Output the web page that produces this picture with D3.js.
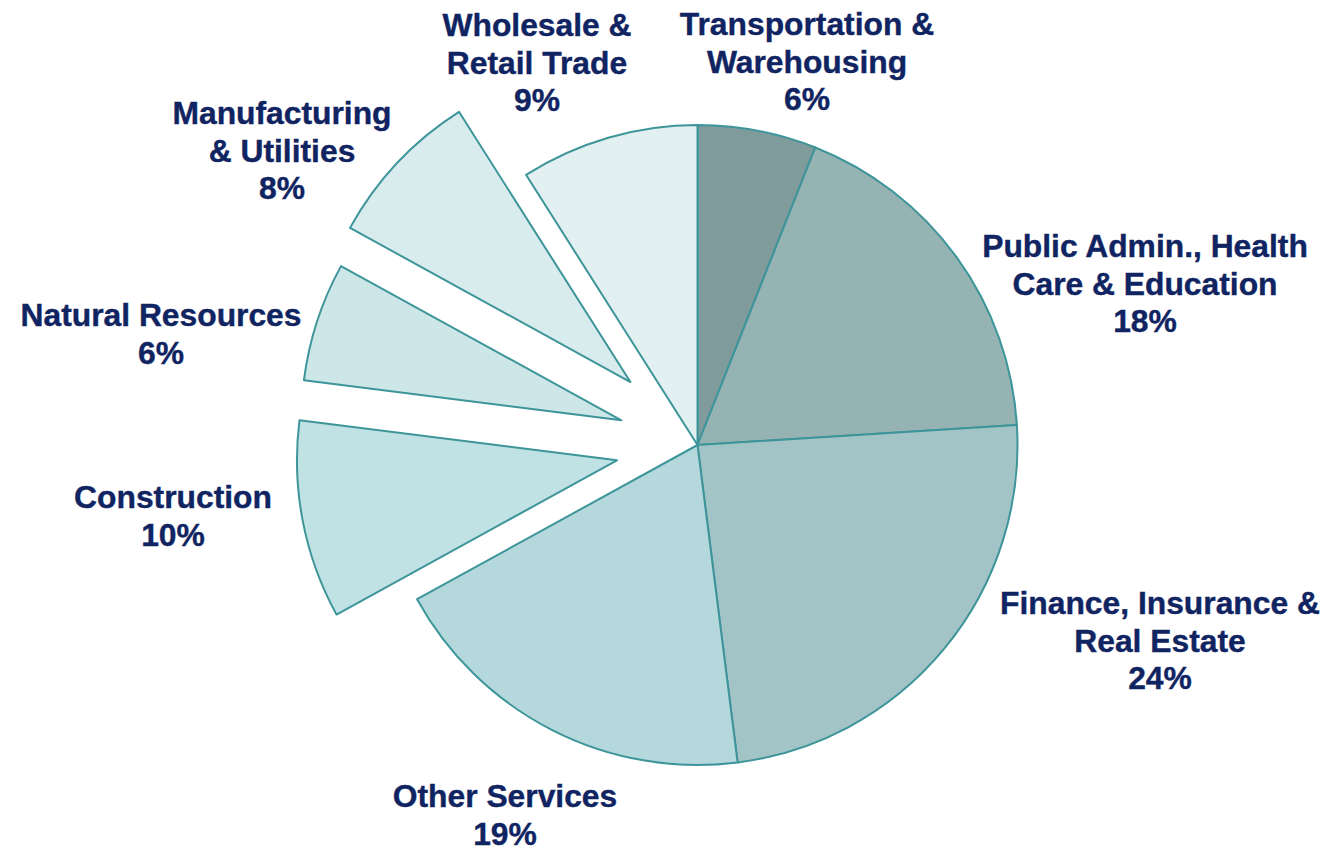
<!DOCTYPE html>
<html>
<head>
<meta charset="utf-8">
<script src="https://cdn.jsdelivr.net/npm/d3@7"></script>
<style>
  html, body { margin: 0; padding: 0; background: #ffffff; }
  svg { display: block; }
</style>
</head>
<body>
<svg id="chart" width="1327" height="847"></svg>
<script>
// ---- Data ----
const categories = [
  "Transportation &\nWarehousing",
  "Public Admin., Health\nCare & Education",
  "Finance, Insurance &\nReal Estate",
  "Other Services",
  "Construction",
  "Natural Resources",
  "Manufacturing\n& Utilities",
  "Wholesale &\nRetail Trade"
];
const shares = [6, 18, 24, 19, 10, 6, 8, 9];

// ---- Styles / layout (kept separate from data) ----
const fills = ["#7f9b9c", "#96b3b4", "#a3c4c6", "#b4d8dc", "#c1e2e4", "#cde6e8", "#d8ebed", "#e2f0f1"];
const explode = [0, 0, 0, 0, 82, 80, 92, 0];
const labelAnchors = [[807, 35], [1145, 257], [1160, 614], [505, 807], [173, 508], [161, 326], [282, 124], [537, 36]];
const cx = 697.5, cy = 445, radius = 320, lineH = 37.5;

const svg = d3.select("#chart");
const pie = d3.pie().sort(null).value(d => d).startAngle(0).endAngle(2 * Math.PI);
const arc = d3.arc().innerRadius(0).outerRadius(radius);
const arcs = pie(shares);

const g = svg.append("g").attr("transform", `translate(${cx},${cy})`);
g.selectAll("path")
  .data(arcs)
  .join("path")
  .attr("d", arc)
  .attr("transform", (d, i) => {
    const mid = (d.startAngle + d.endAngle) / 2;
    return `translate(${Math.sin(mid) * explode[i]},${-Math.cos(mid) * explode[i]})`;
  })
  .attr("fill", (d, i) => fills[i])
  .attr("stroke", "#3d959a")
  .attr("stroke-width", 2)
  .attr("stroke-linejoin", "round");

const labels = svg.append("g")
  .attr("font-family", "Liberation Sans, Arial, sans-serif")
  .attr("font-weight", "bold")
  .attr("font-size", 31.8)
  .attr("fill", "#102462")
  .attr("stroke", "#102462")
  .attr("stroke-width", 0.4)
  .attr("text-anchor", "middle");

categories.forEach((name, i) => {
  const lines = name.split("\n").concat([shares[i] + "%"]);
  const t = labels.append("text")
    .attr("x", labelAnchors[i][0])
    .attr("y", labelAnchors[i][1]);
  lines.forEach((ln, j) => {
    t.append("tspan")
      .attr("x", labelAnchors[i][0])
      .attr("y", labelAnchors[i][1] + j * lineH)
      .text(ln);
  });
});
</script>
</body>
</html>
